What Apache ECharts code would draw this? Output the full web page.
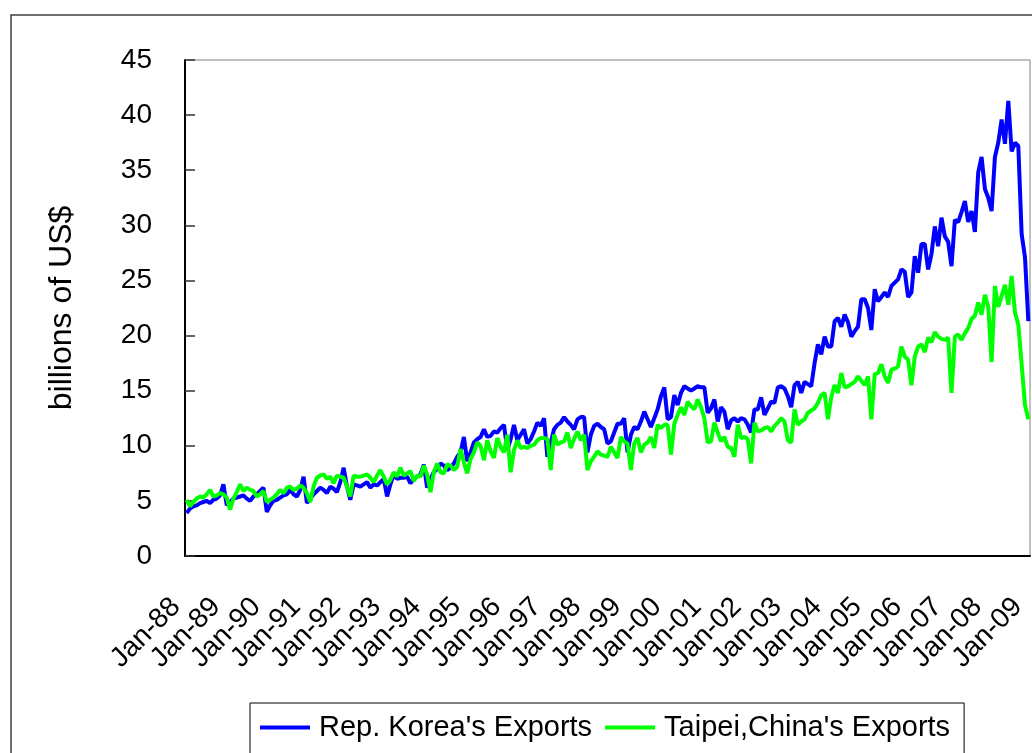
<!DOCTYPE html>
<html>
<head>
<meta charset="utf-8">
<script src="https://cdn.jsdelivr.net/npm/echarts@6/dist/echarts.min.js"></script>
<style>
html,body{margin:0;padding:0;background:#fff;overflow:hidden;}
#chart{width:1032px;height:753px;}
</style>
</head>
<body>
<div id="chart"></div>
<script>
// ---- data ----
const monthNames = ['Jan','Feb','Mar','Apr','May','Jun','Jul','Aug','Sep','Oct','Nov','Dec'];
const yearLabels = ['88','89','90','91','92','93','94','95','96','97','98','99','00','01','02','03','04','05','06','07','08','09'];

// Rep. Korea's exports, billions of US$, monthly from Jan-88
const korea88 = [3.9, 4.3, 4.5, 4.6, 4.8, 4.9, 5.0, 4.8, 5.1, 5.2, 5.5, 6.5];
const korea89 = [4.6, 4.9, 5.2, 5.3, 5.4, 5.5, 5.2, 5.0, 5.4, 5.6, 5.9, 6.2];
const korea90 = [4.0, 4.6, 5.0, 5.1, 5.3, 5.5, 5.6, 6.0, 5.6, 5.4, 6.0, 7.2];
const korea91 = [4.8, 5.2, 5.6, 5.9, 6.2, 6.0, 5.7, 6.3, 6.1, 5.8, 6.7, 8.0];
const korea92 = [6.3, 5.1, 6.5, 6.4, 6.3, 6.5, 6.7, 6.2, 6.5, 6.4, 6.7, 7.0];
const korea93 = [5.4, 6.5, 7.4, 7.0, 7.1, 7.1, 7.2, 6.6, 7.0, 7.2, 7.4, 8.3];
const korea94 = [6.2, 7.0, 7.6, 7.9, 8.4, 8.2, 7.8, 8.0, 8.4, 9.0, 9.4, 10.8];
const korea95 = [8.6, 9.4, 10.3, 10.6, 10.8, 11.5, 10.8, 10.9, 11.3, 11.2, 11.6, 11.9];
const korea96 = [9.6, 10.6, 11.9, 10.5, 11.0, 11.5, 10.2, 10.6, 11.3, 12.1, 11.8, 12.5];
const korea97 = [9.0, 10.3, 11.5, 11.9, 12.1, 12.6, 12.2, 11.9, 11.5, 12.4, 12.6, 12.6];
const korea98 = [9.4, 11.0, 11.8, 12.0, 11.7, 11.5, 10.2, 10.4, 11.2, 12.0, 12.0, 12.5];
const korea99 = [9.4, 11.0, 11.7, 11.5, 12.2, 13.1, 12.4, 11.7, 12.5, 13.3, 14.5, 15.3];
const korea00 = [12.4, 12.6, 14.6, 13.7, 14.8, 15.4, 15.2, 15.0, 15.2, 15.4, 15.3, 15.3];
const korea01 = [13.0, 13.4, 14.2, 12.2, 13.5, 13.1, 11.5, 12.3, 12.5, 12.2, 12.5, 12.4];
const korea02 = [11.9, 11.2, 13.3, 13.3, 14.4, 12.8, 13.4, 14.0, 13.9, 15.3, 15.4, 15.2];
const korea03 = [14.5, 13.5, 15.5, 15.8, 14.8, 15.8, 15.6, 15.4, 17.5, 19.2, 18.3, 19.9];
const korea04 = [19.0, 19.0, 21.3, 21.6, 20.8, 21.9, 21.2, 19.9, 20.4, 20.8, 23.3, 23.3];
const korea05 = [22.5, 20.5, 24.2, 23.1, 23.5, 23.9, 23.5, 24.5, 24.8, 25.1, 26.0, 25.8];
const korea06 = [23.5, 23.9, 27.2, 25.7, 28.3, 28.3, 26.0, 27.4, 29.9, 28.1, 30.7, 29.0];
const korea07 = [28.5, 26.3, 30.5, 30.3, 31.2, 32.2, 30.3, 31.3, 29.4, 34.8, 36.2, 33.3];
const korea08 = [32.5, 31.3, 36.2, 37.5, 39.6, 37.4, 41.3, 36.7, 37.5, 37.2, 29.2, 27.1];
const korea09 = [21.3];

// Taipei,China's exports, billions of US$, monthly from Jan-88
const taipei88 = [5.1, 4.5, 4.9, 5.2, 5.4, 5.3, 5.6, 6.0, 5.4, 5.5, 5.7, 5.6];
const taipei89 = [5.3, 4.2, 5.2, 5.8, 6.5, 5.9, 6.2, 6.0, 5.9, 5.4, 5.6, 5.9];
const taipei90 = [4.9, 5.1, 5.3, 5.6, 6.0, 5.7, 6.2, 6.3, 6.0, 6.1, 6.4, 6.2];
const taipei91 = [5.7, 4.9, 6.3, 7.1, 7.3, 7.4, 7.0, 7.2, 6.6, 7.3, 7.2, 7.1];
const taipei92 = [6.3, 5.4, 7.3, 7.2, 7.2, 7.3, 7.4, 7.1, 6.7, 7.3, 7.8, 7.2];
const taipei93 = [6.5, 6.9, 7.6, 7.2, 8.0, 7.3, 7.5, 7.7, 6.8, 7.3, 7.2, 8.2];
const taipei94 = [7.4, 5.8, 7.6, 8.4, 7.6, 7.5, 8.3, 8.2, 7.8, 8.1, 9.7, 8.5];
const taipei95 = [7.5, 8.8, 9.4, 10.3, 10.0, 8.7, 10.5, 9.5, 8.9, 10.7, 9.9, 9.4];
const taipei96 = [11.0, 7.6, 9.6, 10.5, 9.8, 9.9, 9.8, 10.0, 10.1, 10.5, 10.7, 10.7];
const taipei97 = [10.6, 7.8, 11.0, 10.1, 10.3, 10.4, 11.2, 9.8, 10.6, 11.3, 10.5, 11.0];
const taipei98 = [7.8, 8.6, 9.0, 9.5, 9.2, 9.1, 9.0, 9.9, 9.4, 8.9, 10.8, 10.4];
const taipei99 = [10.2, 7.8, 10.2, 10.7, 9.4, 10.1, 10.3, 10.8, 9.8, 11.9, 11.6, 11.9];
const taipei00 = [11.9, 9.2, 12.0, 12.8, 13.5, 12.8, 14.0, 13.6, 13.3, 14.2, 13.5, 12.5];
const taipei01 = [10.3, 10.4, 12.1, 11.2, 10.4, 10.8, 9.9, 9.8, 9.0, 11.9, 10.7, 10.8];
const taipei02 = [10.6, 8.4, 12.1, 11.3, 11.4, 11.6, 11.7, 11.3, 11.8, 12.1, 12.5, 12.2];
const taipei03 = [10.5, 10.3, 13.3, 11.9, 12.2, 12.4, 13.0, 13.2, 13.4, 13.9, 14.6, 14.8];
const taipei04 = [12.4, 14.4, 15.5, 14.8, 16.6, 15.3, 15.4, 15.6, 15.8, 16.3, 15.9, 15.5];
const taipei05 = [16.3, 12.4, 16.5, 16.6, 17.4, 16.3, 15.7, 16.9, 17.0, 17.2, 19.0, 18.1];
const taipei06 = [17.8, 15.5, 18.1, 19.0, 19.2, 18.5, 19.8, 19.4, 20.3, 19.9, 19.7, 19.6];
const taipei07 = [19.8, 14.8, 19.9, 20.1, 19.6, 20.2, 20.7, 21.5, 21.8, 23.0, 21.9, 23.7];
const taipei08 = [22.6, 17.6, 24.5, 22.6, 23.6, 24.6, 22.8, 25.4, 22.1, 21.0, 17.4, 13.7];
const taipei09 = [12.4];

const koreaYears = [korea88,korea89,korea90,korea91,korea92,korea93,korea94,korea95,korea96,korea97,korea98,korea99,korea00,korea01,korea02,korea03,korea04,korea05,korea06,korea07,korea08,korea09];
const taipeiYears = [taipei88,taipei89,taipei90,taipei91,taipei92,taipei93,taipei94,taipei95,taipei96,taipei97,taipei98,taipei99,taipei00,taipei01,taipei02,taipei03,taipei04,taipei05,taipei06,taipei07,taipei08,taipei09];

const categories = [];
const koreaExports = [];
const taipeiExports = [];
koreaYears.forEach(function (arr, y) {
  arr.forEach(function (v, m) {
    categories.push(monthNames[m] + '-' + yearLabels[y]);
    koreaExports.push(v);
    taipeiExports.push(taipeiYears[y][m]);
  });
});

const FONT = '"Liberation Sans", Arial, sans-serif';
const chart = echarts.init(document.getElementById('chart'), null, {renderer: 'canvas', width: 1032, height: 753});
chart.setOption({
  animation: false,
  backgroundColor: '#ffffff',
  graphic: [{
    type: 'rect',
    shape: {x: 11, y: 15, width: 1040, height: 800},
    style: {fill: 'none', stroke: '#404040', lineWidth: 1.5},
    silent: true
  }],
  grid: {left: 185, right: 2, top: 60, bottom: 197, show: true, borderColor: '#808080', borderWidth: 1, backgroundColor: 'transparent'},
  legend: {
    left: 250, top: 703,
    orient: 'horizontal',
    borderColor: '#000', borderWidth: 1,
    padding: [10, 14, 30, 10],
    itemWidth: 50, itemHeight: 4, itemGap: 13,
    icon: 'rect',
    textStyle: {fontSize: 29, color: '#000', fontFamily: FONT, padding: [0, 0, 0, 4]},
    data: ["Rep. Korea's Exports", "Taipei,China's Exports"]
  },
  xAxis: {
    type: 'category',
    data: categories,
    boundaryGap: true,
    axisLine: {lineStyle: {color: '#000', width: 2}},
    axisTick: {interval: 11, inside: true, length: 10, lineStyle: {color: '#000', width: 1.5}},
    axisLabel: {interval: 11, rotate: 45, margin: 36, padding: [0, 15, 0, 0], fontSize: 28, color: '#000', fontFamily: FONT},
    splitLine: {show: false}
  },
  yAxis: {
    type: 'value',
    min: 0, max: 45, interval: 5,
    name: 'billions of US$',
    nameLocation: 'middle',
    nameGap: 107,
    nameTextStyle: {fontSize: 32, color: '#000', fontFamily: FONT},
    axisLine: {show: true, lineStyle: {color: '#000', width: 2}},
    axisTick: {show: true, inside: true, length: 10, lineStyle: {color: '#333', width: 1.5}},
    axisLabel: {fontSize: 28, color: '#000', margin: 33, fontFamily: FONT},
    splitLine: {show: false}
  },
  series: [
    {name: "Rep. Korea's Exports", type: 'line', data: koreaExports, symbol: 'none', z: 2,
     lineStyle: {color: '#0000ff', width: 4}, itemStyle: {color: '#0000ff'}},
    {name: "Taipei,China's Exports", type: 'line', data: taipeiExports, symbol: 'none', z: 3,
     lineStyle: {color: '#00ff00', width: 4}, itemStyle: {color: '#00ff00'}}
  ]
});
</script>
</body>
</html>
